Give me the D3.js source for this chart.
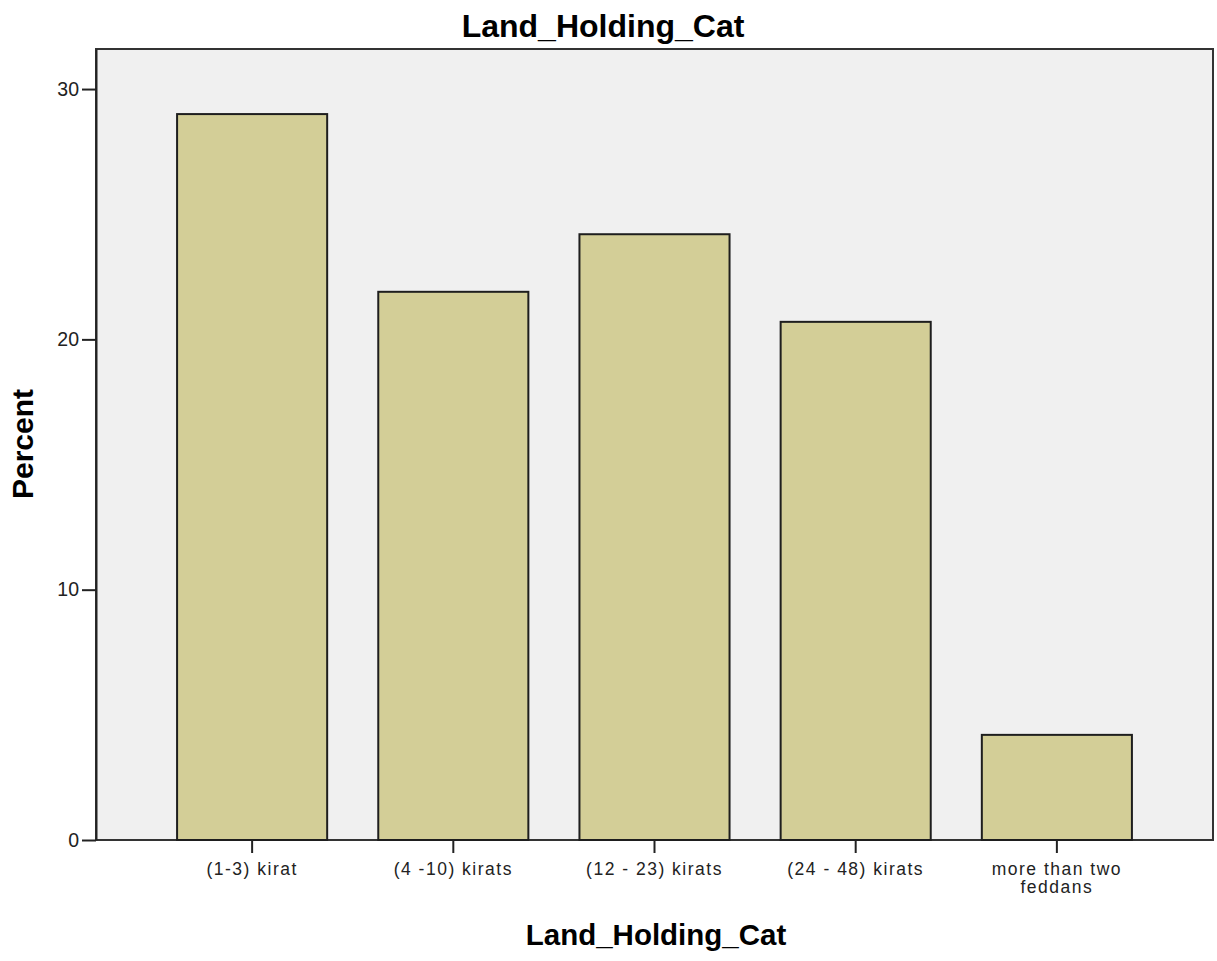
<!DOCTYPE html>
<html><head><meta charset="utf-8">
<script src="https://cdn.jsdelivr.net/npm/d3@7"></script>
<style>body{margin:0;background:#fff;}svg{display:block;font-family:"Liberation Sans",Arial,sans-serif;}</style>
</head><body><svg id="c" width="1217" height="961"></svg>
<script>
const categories = ["(1-3) kirat", "(4 -10) kirats", "(12 - 23) kirats", "(24 - 48) kirats", "more than two\nfeddans"];
const percents = [29.0, 21.9, 24.2, 20.7, 4.2];
const yTicks = [0, 10, 20, 30];
const chartTitle = "Land_Holding_Cat";
const xTitle = "Land_Holding_Cat";
const yTitle = "Percent";

const svg = d3.select("#c");
const L = 96, R = 1213, T = 49, B = 840;
const x = d3.scaleBand().domain(categories).range([L, R]).paddingInner(0.254).paddingOuter(0.403);
const y = d3.scaleLinear().domain([0, 31.6]).range([B, T]);

svg.append("rect").attr("x", L).attr("y", T).attr("width", R - L).attr("height", B - T)
  .attr("fill", "#f0f0f0").attr("stroke", "#333").attr("stroke-width", 2);

svg.selectAll("rect.bar").data(percents).join("rect").attr("class", "bar")
  .attr("x", (d, i) => x(categories[i]))
  .attr("y", d => y(d))
  .attr("width", x.bandwidth())
  .attr("height", d => B - y(d))
  .attr("fill", "#d3ce97").attr("stroke", "#1e1e1e").attr("stroke-width", 2);

// y axis
const ya = svg.append("g").attr("transform", `translate(${L},0)`)
  .call(d3.axisLeft(y).tickValues(yTicks).tickSizeInner(14).tickSizeOuter(0).tickPadding(3).tickFormat(d3.format("d")));
ya.select(".domain").attr("stroke", "#222").attr("stroke-width", 2);
ya.selectAll(".tick line").attr("stroke", "#222").attr("stroke-width", 2);
ya.selectAll(".tick text").attr("font-size", 19.5).attr("fill", "#222").attr("font-family", "Liberation Sans, Arial, sans-serif");

// x axis
const xa = svg.append("g").attr("transform", `translate(0,${B})`)
  .call(d3.axisBottom(x).tickSizeInner(13).tickSizeOuter(0).tickPadding(4).tickFormat(""));
xa.select(".domain").remove();
xa.selectAll(".tick line").attr("stroke", "#222").attr("stroke-width", 2);
xa.selectAll(".tick").each(function(d) {
  const lines = d.split("\n");
  const t = d3.select(this).append("text").attr("fill", "#222").attr("font-size", 17.5)
    .attr("letter-spacing", 1.5).attr("text-anchor", "middle").attr("font-family", "Liberation Sans, Arial, sans-serif");
  lines.forEach((ln, i) => t.append("tspan").attr("x", 0).attr("y", 35 + i * 18).text(ln));
});

svg.append("text").attr("x", 603).attr("y", 37).attr("text-anchor", "middle")
  .attr("font-size", 32).attr("font-weight", "bold").attr("fill", "#000").text(chartTitle);
svg.append("text").attr("x", 656).attr("y", 945).attr("text-anchor", "middle")
  .attr("font-size", 29.5).attr("font-weight", "bold").attr("fill", "#000").text(xTitle);
svg.append("text").attr("transform", "translate(33,444) rotate(-90)").attr("text-anchor", "middle")
  .attr("font-size", 30).attr("font-weight", "bold").attr("fill", "#000").text(yTitle);
</script></body></html>
